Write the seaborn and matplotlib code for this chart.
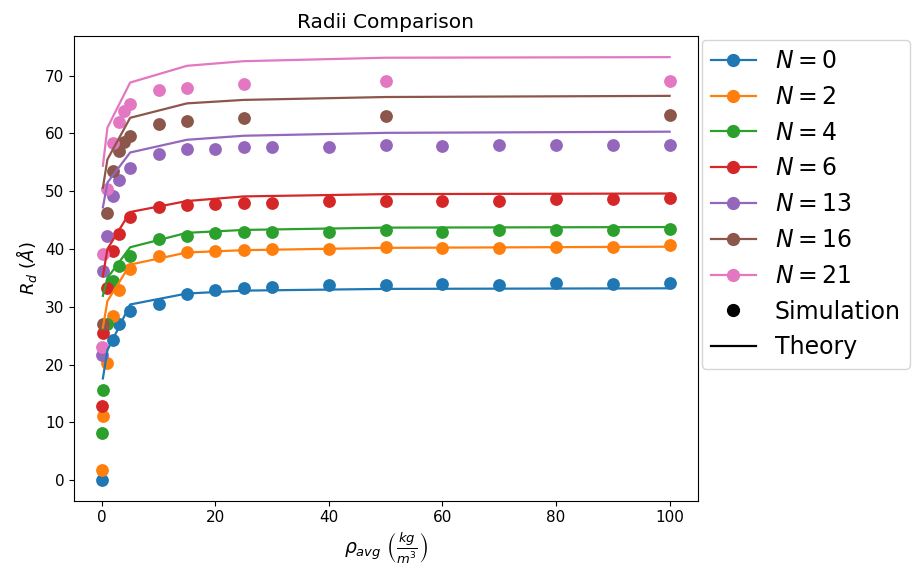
import numpy as np
import pandas as pd
import seaborn as sns
import matplotlib.pyplot as plt
from matplotlib.lines import Line2D

# Data -------------------------------------------------------------------------

n_values = [0, 2, 4, 6, 13, 16, 21]

sim_x = {
    0: [0.1, 2, 3, 5, 10, 15, 20, 25, 30, 40, 50, 60, 70, 80, 90, 100],
    2: [0.1, 0.2, 1, 2, 3, 5, 10, 15, 20, 25, 30, 40, 50, 60, 70, 80, 90, 100],
    4: [0.1, 0.2, 1, 2, 3, 5, 10, 15, 20, 25, 30, 40, 50, 60, 70, 80, 90, 100],
    6: [0.1, 0.2, 1, 2, 3, 5, 10, 15, 20, 25, 30, 40, 50, 60, 70, 80, 90, 100],
    13: [0.1, 0.2, 1, 2, 3, 5, 10, 15, 20, 25, 30, 40, 50, 60, 70, 80, 90, 100],
    16: [0.2, 1, 2, 3, 4, 5, 10, 15, 25, 50, 100],
    21: [0.1, 0.2, 1, 2, 3, 4, 5, 10, 15, 25, 50, 100],
}

sim_r = {
    0: [0.1, 24.2, 27.1, 29.3, 30.5, 32.3, 32.9, 33.2, 33.5, 33.8, 33.8, 34.0, 33.7, 34.2, 33.9, 34.2],
    2: [1.7, 11.1, 20.3, 28.4, 32.9, 36.6, 38.8, 39.4, 39.6, 39.8, 40.0, 40.0, 40.3, 40.1, 40.1, 40.4, 40.4, 40.7],
    4: [8.2, 15.6, 27.0, 34.5, 37.1, 38.8, 41.7, 42.3, 42.7, 42.9, 43.0, 43.0, 43.3, 43.0, 43.3, 43.3, 43.3, 43.4],
    6: [12.8, 25.5, 33.2, 39.7, 42.6, 45.5, 47.2, 47.7, 47.8, 48.0, 47.9, 48.3, 48.3, 48.3, 48.3, 48.6, 48.6, 48.9],
    13: [21.6, 36.2, 42.3, 49.2, 51.9, 54.1, 56.5, 57.3, 57.3, 57.6, 57.6, 57.6, 58.0, 57.8, 58.0, 58.0, 58.0, 58.0],
    16: [27.0, 46.3, 53.5, 57.0, 58.6, 59.6, 61.6, 62.2, 62.6, 63.0, 63.2],
    21: [23.1, 39.2, 50.3, 58.4, 61.9, 63.9, 65.1, 67.5, 67.9, 68.6, 69.0, 69.1],
}

theory_x = [0.2, 1, 5, 15, 25, 50, 100]

theory_r = {
    0: [17.6, 22.5, 30.4, 32.3, 32.8, 33.1, 33.2],
    2: [26.4, 31.0, 37.3, 39.4, 39.8, 40.2, 40.4],
    4: [31.9, 35.0, 40.3, 42.8, 43.3, 43.7, 43.8],
    6: [35.3, 40.0, 46.4, 48.3, 49.1, 49.5, 49.6],
    13: [47.2, 51.5, 56.7, 58.9, 59.6, 60.1, 60.3],
    16: [50.6, 55.5, 62.7, 65.2, 65.8, 66.3, 66.5],
    21: [54.4, 61.0, 68.8, 71.7, 72.5, 73.1, 73.2],
}

colors = sns.color_palette("tab10", len(n_values))

# Plot -------------------------------------------------------------------------

fig = plt.figure(figsize = (9.13, 5.69), dpi = 100)
ax = fig.add_axes([0.081, 0.120, 0.6835, 0.8167])

for n, col in zip(n_values, colors):
    sim = pd.DataFrame({"rho": sim_x[n], "r": sim_r[n]})
    theory = pd.DataFrame({"rho": theory_x, "r": theory_r[n]})
    sns.lineplot(data = theory, x = "rho", y = "r", color = col, linewidth = 1.6, ax = ax)
    sns.scatterplot(data = sim, x = "rho", y = "r", color = col, s = 85, linewidth = 0, ax = ax)

ax.set_title("Radii Comparison", fontsize = 14.5)
ax.set_xlabel(r"$\rho_{avg}\ \left(\frac{kg}{m^3}\right)$", fontsize = 13.5)
ax.set_ylabel(r"$R_d\ (\AA)$", fontsize = 13)
ax.set_xticks([0, 20, 40, 60, 80, 100])
ax.set_yticks([0, 10, 20, 30, 40, 50, 60, 70])
ax.tick_params(labelsize = 11)

handles = [Line2D([], [], color = c, marker = "o", markersize = 8.5, linewidth = 1.6) for c in colors]
labels = [f"$N = {n}$" for n in n_values]
handles += [Line2D([], [], color = "black", marker = "o", linestyle = "", markersize = 8.5),
            Line2D([], [], color = "black", linewidth = 1.6)]
labels += ["Simulation", "Theory"]
ax.legend(handles, labels, loc = "upper left", bbox_to_anchor = (1.0, 1.0),
          borderaxespad = 0.15, fontsize = 17, labelspacing = 0.5, handlelength = 1.9)

fig.savefig("out.png", dpi = 100)
